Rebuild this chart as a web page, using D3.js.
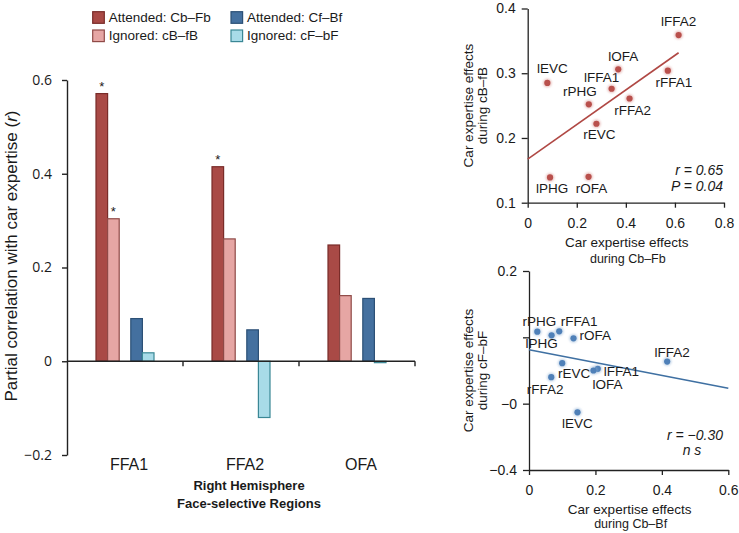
<!DOCTYPE html>
<html><head><meta charset="utf-8">
<script src="https://cdn.jsdelivr.net/npm/d3@7"></script>
<style>
html,body{margin:0;padding:0;background:#fff;}
svg{display:block;}
text{font-family:"Liberation Sans",Arial,sans-serif;fill:#1a1a1a;}
</style></head>
<body>
<svg id="chart" width="739" height="533"></svg>
<script>
// ---------- DATA ----------
const categories = ["FFA1", "FFA2", "OFA"];
const seriesNames = ["Attended: Cb–Fb", "Ignored: cB–fB", "Attended: Cf–Bf", "Ignored: cF–bF"];
const attendedCbFb = [0.571, 0.415, 0.248];
const ignoredcBfB = [0.304, 0.261, 0.140];
const attendedCfBf = [0.091, 0.067, 0.134];
const ignoredcFbF = [0.018, -0.120, -0.003];
const significant = [[true, true, false, false], [true, false, false, false], [false, false, false, false]];
const barTicks = [-0.2, 0, 0.2, 0.4, 0.6];
const barAxisTitle = "Partial correlation with car expertise (";
const barXTitle = ["Right Hemisphere", "Face-selective Regions"];

const regionsTop = ["lEVC", "lPHG", "rOFA", "rPHG", "lFFA1", "lOFA", "rEVC", "rFFA2", "rFFA1", "lFFA2"];
const effCbFb = [0.080, 0.091, 0.248, 0.249, 0.342, 0.369, 0.280, 0.415, 0.571, 0.615];
const effcBfB = [0.285, 0.139, 0.140, 0.252, 0.276, 0.306, 0.222, 0.261, 0.304, 0.359];
const topXTicks = [0, 0.2, 0.4, 0.6, 0.8];
const topYTicks = [0.1, 0.2, 0.3, 0.4];
const topStats = ["r = 0.65", "P = 0.04"];

const regionsBot = ["rPHG", "lPHG", "rFFA1", "rOFA", "lFFA2", "rEVC", "lFFA1", "lOFA", "rFFA2", "lEVC"];
const effCbBf = [0.025, 0.068, 0.091, 0.134, 0.416, 0.100, 0.207, 0.194, 0.067, 0.146];
const effcFbF = [0.017, 0.006, 0.018, -0.003, -0.073, -0.078, -0.095, -0.100, -0.120, -0.226];
const botXTicks = [0, 0.2, 0.4, 0.6];
const botYTicks = [0.2, 0, -0.2, -0.4];
const botYTickLabels = ["0.2", "", "−0", "−0.4"];
const botStats = ["r = −0.30", "n s"];

// ---------- LAYOUT / STYLE ----------
const fills = ["#a94a46", "#e6a6a4", "#44709f", "#a8dbe8"];
const strokes = ["#792c29", "#8f4a47", "#2c5076", "#3a8795"];
// label offsets (dx, dy, anchor) for scatter labels
const topLabelPos = {
  lEVC: [5, -10, "middle"], lPHG: [2, 16, "middle"], rOFA: [3, 16, "middle"],
  rPHG: [-9, -8, "middle"], lFFA1: [-10, -7, "middle"], lOFA: [5, -8, "middle"],
  rEVC: [3, 15, "middle"], rFFA2: [3, 17, "middle"], rFFA1: [6, 16, "middle"],
  lFFA2: [0, -9, "middle"]
};
const botLabelPos = {
  rPHG: [2, -6, "middle"], rFFA1: [20, -5, "middle"], lPHG: [-10, 13, "middle"],
  rOFA: [6, 2, "start"], lFFA2: [5, -5, "middle"], rEVC: [12, 15, "middle"],
  lFFA1: [6, 7, "start"], lOFA: [14, 18.5, "middle"], rFFA2: [-6, 17, "middle"],
  lEVC: [0, 16, "middle"]
};

const svg = d3.select("#chart");
const defs = svg.append("defs");
const f = defs.append("filter").attr("id", "glow").attr("x", "-100%").attr("y", "-100%").attr("width", "300%").attr("height", "300%");
f.append("feGaussianBlur").attr("stdDeviation", 1.1);

const minus = s => s.replace("-", "−");

// ---------- BAR CHART ----------
const series = [attendedCbFb, ignoredcBfB, attendedCfBf, ignoredcFbF];
const yB = d3.scaleLinear().domain([-0.2, 0.6]).range([455, 80]);
const xB = d3.scaleBand().domain(categories).range([67, 415]).padding(0);
const slots = ["s0", "s1", "gap", "s2", "s3"];
const slotKeys = ["s0", "s1", "s2", "s3"];
const xSlot = d3.scaleBand().domain(slots).range([29, xB.bandwidth() - 29]).padding(0);

const gB = svg.append("g");
categories.forEach((c, ci) => {
  series.forEach((vals, si) => {
    const v = vals[ci];
    const x0 = xB(c) + xSlot(slotKeys[si]);
    const yTop = yB(Math.max(0, v)), yBot = yB(Math.min(0, v));
    gB.append("rect")
      .attr("x", x0).attr("y", yTop)
      .attr("width", xSlot.bandwidth()).attr("height", Math.max(0.8, yBot - yTop))
      .attr("fill", fills[si]).attr("stroke", strokes[si]).attr("stroke-width", 1.2);
    if (significant[ci][si]) {
      gB.append("text").attr("x", x0 + xSlot.bandwidth() / 2).attr("y", yTop - 3)
        .attr("text-anchor", "middle").style("font-size", "13px").text("*");
    }
  });
});

// y axis
const yAxB = gB.append("g").attr("transform", "translate(67,0)")
  .call(d3.axisLeft(yB).tickValues(barTicks).tickSize(5).tickSizeOuter(0).tickPadding(10)
    .tickFormat(d => d === 0 ? "0" : minus(d3.format(".1f")(d))));
yAxB.select(".domain").attr("stroke", "#222").attr("stroke-width", 1.4);
yAxB.selectAll(".tick line").attr("stroke", "#222").attr("stroke-width", 1.4);
yAxB.selectAll("text").style("font-family", "'Open Sans', sans-serif").style("font-size", "14px").attr("fill", "#1a1a1a");

// x axis at zero
const y0 = yB(0);
gB.append("line").attr("x1", 67).attr("x2", xB.range()[1]).attr("y1", y0).attr("y2", y0)
  .attr("stroke", "#222").attr("stroke-width", 1.4);
categories.forEach(c => {
  const xe = xB(c) + xB.bandwidth();
  gB.append("line").attr("x1", xe).attr("x2", xe).attr("y1", y0).attr("y2", y0 + 5)
    .attr("stroke", "#222").attr("stroke-width", 1.4);
  gB.append("text").attr("x", xB(c) + xB.bandwidth() / 2 + 4).attr("y", 470)
    .attr("text-anchor", "middle").style("font-size", "16px").text(c);
});
barXTitle.forEach((t, i) => {
  gB.append("text").attr("x", 249).attr("y", 490 + i * 17.5).attr("text-anchor", "middle")
    .style("font-size", "13px").style("font-weight", "bold").text(t);
});
const yt = gB.append("text").attr("transform", "translate(16.5,256) rotate(-90)")
  .attr("text-anchor", "middle").style("font-size", "17px");
yt.append("tspan").text(barAxisTitle);
yt.append("tspan").style("font-style", "italic").text("r");
yt.append("tspan").text(")");

// legend
const legCols = [92.7, 231];
const legRows = [11.7, 30];
seriesNames.forEach((n, i) => {
  const col = i < 2 ? 0 : 1, row = i % 2;
  svg.append("rect").attr("x", legCols[col]).attr("y", legRows[row]).attr("width", 11.6).attr("height", 11.6)
    .attr("fill", fills[i]).attr("stroke", strokes[i]).attr("stroke-width", 1.2);
  svg.append("text").attr("x", legCols[col] + 16).attr("y", legRows[row] + 10.3)
    .style("font-size", "13.5px").text(n);
});

// ---------- SCATTER helper ----------
function scatter(opts) {
  const g = svg.append("g");
  const x = d3.scaleLinear().domain(opts.xDomain).range(opts.xRange);
  const y = d3.scaleLinear().domain(opts.yDomain).range(opts.yRange);
  const xa = g.append("g").attr("transform", `translate(0,${opts.yRange[0]})`)
    .call(d3.axisBottom(x).tickValues(opts.xTicks).tickSize(5).tickSizeOuter(0).tickPadding(10)
      .tickFormat(d => d === 0 ? "0" : d3.format(".1f")(d)));
  const ya = g.append("g").attr("transform", `translate(${opts.xRange[0]},0)`)
    .call(d3.axisLeft(y).tickValues(opts.yTicks).tickSize(6).tickSizeOuter(0).tickPadding(6)
      .tickFormat((d, i) => opts.yTickLabels ? opts.yTickLabels[i] : d3.format(".1f")(d)));
  [xa, ya].forEach(a => {
    a.select(".domain").attr("stroke", "#222").attr("stroke-width", 1.3);
    a.selectAll(".tick line").attr("stroke", "#222").attr("stroke-width", 1.3);
    a.selectAll("text").style("font-family", "'Liberation Sans', Arial, sans-serif").style("font-size", "14px").attr("fill", "#1a1a1a");
  });
  // trendline (least squares)
  const mx = d3.mean(opts.xs), my = d3.mean(opts.ys);
  const sxy = d3.sum(opts.xs, (v, i) => (v - mx) * (opts.ys[i] - my));
  const sxx = d3.sum(opts.xs, v => (v - mx) * (v - mx));
  const slope = sxy / sxx, icpt = my - slope * mx;
  const tx = opts.trendX;
  g.append("line").attr("x1", x(tx[0])).attr("y1", y(icpt + slope * tx[0]))
    .attr("x2", x(tx[1])).attr("y2", y(icpt + slope * tx[1]))
    .attr("stroke", opts.lineColor).attr("stroke-width", 1.6);
  // points
  opts.xs.forEach((xv, i) => {
    const cx = x(xv), cy = y(opts.ys[i]);
    g.append("circle").attr("cx", cx).attr("cy", cy).attr("r", 4.3).attr("fill", opts.glowColor)
      .attr("opacity", 0.55).attr("filter", "url(#glow)");
    g.append("circle").attr("cx", cx).attr("cy", cy).attr("r", 3.1).attr("fill", opts.pointColor);
    const p = opts.labelPos[opts.names[i]];
    g.append("text").attr("x", cx + p[0]).attr("y", cy + p[1]).attr("text-anchor", p[2])
      .style("font-size", "13.5px").text(opts.names[i]);
  });
  // titles
  const xc = (opts.xRange[0] + opts.xRange[1]) / 2;
  g.append("text").attr("x", xc + 1).attr("y", opts.xTitleY[0]).attr("text-anchor", "middle")
    .style("font-size", "13.5px").text("Car expertise effects");
  g.append("text").attr("x", xc + 2).attr("y", opts.xTitleY[1]).attr("text-anchor", "middle")
    .style("font-size", "12.5px").text(opts.xSub);
  const yc = (opts.yRange[0] + opts.yRange[1]) / 2;
  g.append("text").attr("transform", `translate(473,${yc}) rotate(-90)`).attr("text-anchor", "middle")
    .style("font-size", "13.5px").text("Car expertise effects");
  g.append("text").attr("transform", `translate(487,${yc}) rotate(-90)`).attr("text-anchor", "middle")
    .style("font-size", "13.5px").text(opts.ySub);
  // stats
  opts.stats.forEach((s, i) => {
    g.append("text").attr("x", opts.statPos[i][0]).attr("y", opts.statPos[i][1])
      .attr("text-anchor", opts.statPos[i][2]).style("font-size", "14px").style("font-style", "italic").text(s);
  });
}

scatter({
  xs: effCbFb, ys: effcBfB, names: regionsTop, labelPos: topLabelPos,
  xDomain: [0, 0.8], xRange: [527.7, 724], yDomain: [0.1, 0.4], yRange: [202.7, 8.5],
  xTicks: topXTicks, yTicks: topYTicks, trendX: [0, d3.max(effCbFb)],
  lineColor: "#b04844", pointColor: "#b9504c", glowColor: "#d8908c",
  xTitleY: [247, 263], xSub: "during Cb–Fb", ySub: "during cB–fB",
  stats: topStats, statPos: [[723, 175, "end"], [723, 191, "end"]]
});

scatter({
  xs: effCbBf, ys: effcFbF, names: regionsBot, labelPos: botLabelPos,
  xDomain: [0, 0.6], xRange: [529, 728.3], yDomain: [-0.4, 0.2], yRange: [470, 271],
  xTicks: botXTicks, yTicks: botYTicks, yTickLabels: botYTickLabels, trendX: [0, 0.6],
  lineColor: "#3f70a2", pointColor: "#4f80b8", glowColor: "#92b2d6",
  xTitleY: [514, 528], xSub: "during Cb–Bf", ySub: "during cF–bF",
  stats: botStats, statPos: [[723, 440, "end"], [692, 455, "middle"]]
});
</script>
</body></html>
